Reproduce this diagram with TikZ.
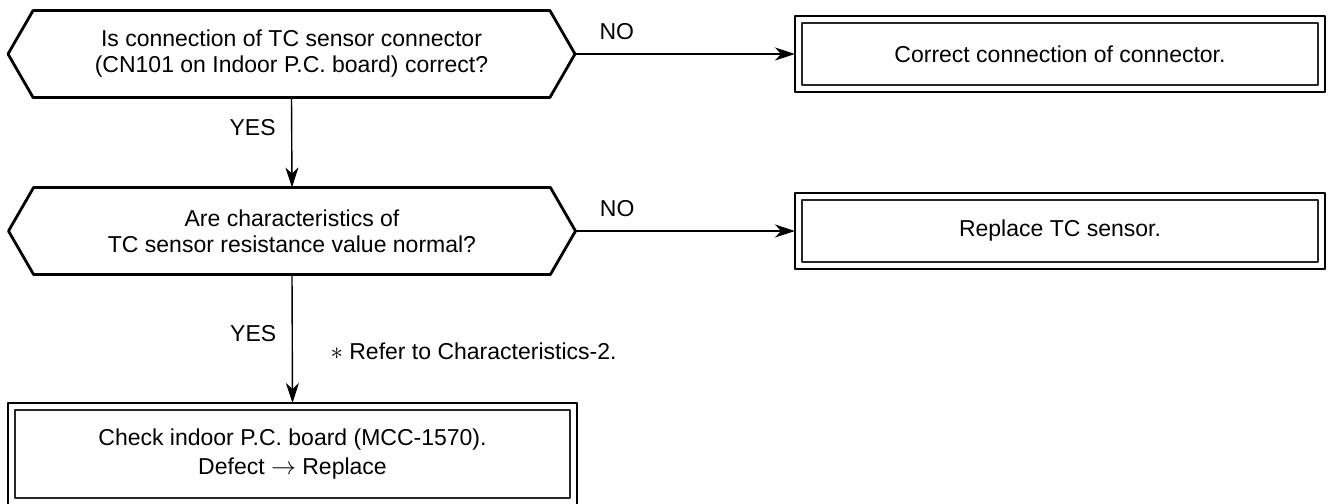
\documentclass[tikz,border=0pt]{standalone}
\usepackage{fontspec}
\setmainfont{Liberation Sans}
\usetikzlibrary{arrows.meta, positioning, shapes.symbols}
\tikzset{every path/.style={line cap=round, line join=round}}

\begin{document}
\begin{tikzpicture}[
    x=1pt, y=-1pt,
    font=\fontsize{23}{26}\selectfont,
    decision/.style={
        draw=black,
        line width=2.8pt,
        shape=signal,
        signal to=west and east,
        signal pointer angle=120,
        align=center,
        minimum width=567pt,
        minimum height=87pt,
        outer sep=0pt,
        inner sep=0pt
    },
    action/.style={
        draw=black,
        line width=2.8pt,
        rectangle,
        align=center,
        minimum height=76pt,
        outer sep=0pt,
        inner sep=0pt
    },
    inner/.style={draw=black!85, line width=1.4pt},
    flow/.style={-{Stealth[length=20pt, width=13pt, inset=6pt]}, line width=1.4pt}
]
\useasboundingbox (0,0) rectangle (1329,503);

\node[decision] (conncheck) at (291.5,54)
{Is connection of TC sensor connector\\(CN101 on Indoor P.C. board) correct?};

\node[action, minimum width=530pt] (fixconn) at (1060,54)
{Correct connection of connector.};

\node[decision] (senscheck) at (292,231)
{Are characteristics of\\TC sensor resistance value normal?};

\node[action, minimum width=530pt] (replsens) at (1060,231)
{Replace TC sensor.};

\node[action, minimum width=569pt, minimum height=102pt, font=\fontsize{23}{29}\selectfont] (checkpcb) at (292.5,454)
{Check indoor P.C. board (MCC-1570).\\Defect $\rightarrow$ Replace};

\foreach \b in {fixconn,replsens,checkpcb}
  \draw[inner] ([shift={(7,7)}]\b.north west) rectangle ([shift={(-7,-7)}]\b.south east);

\draw[flow] (conncheck.east) -- node[pos=0.19, above=10pt] (no1) {NO} (fixconn.west);
\draw[flow] (senscheck.east) -- node[pos=0.19, above=10pt] (no2) {NO} (replsens.west);
\draw[flow] (conncheck.south) -- node[pos=0.33, left=12pt] (yes1) {YES} (senscheck.north);
\draw[flow] (senscheck.south) -- node[pos=0.46, left=12pt] (yes2) {YES} (checkpcb.north);

\node[anchor=west] (refnote) at (327,351) {$\ast$ Refer to Characteristics-2.};

\end{tikzpicture}
\end{document}
